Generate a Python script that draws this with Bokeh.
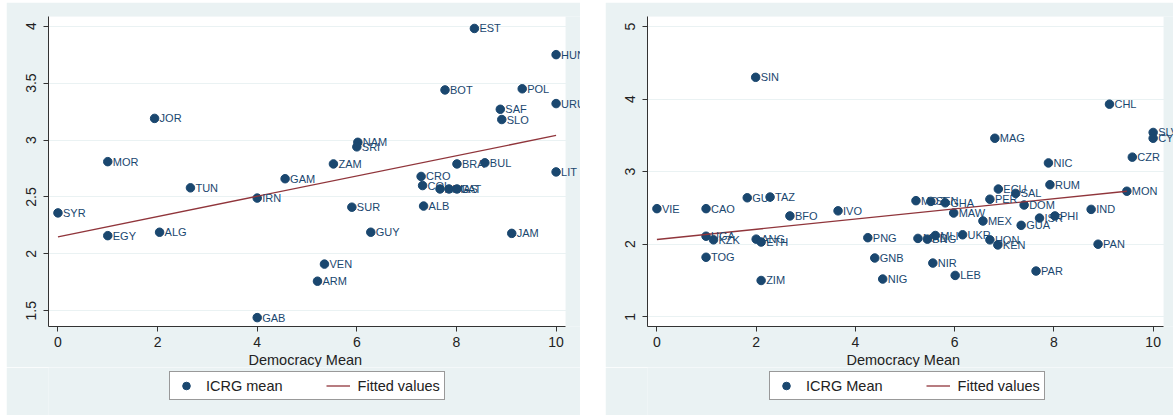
from bokeh.plotting import figure
from bokeh.models import (Range1d, FixedTicker, ColumnDataSource, LabelSet,
                          Legend, LegendItem, BoxAnnotation, Title)
from bokeh.core.properties import value
from bokeh.layouts import row, column
from bokeh.embed import file_html
from bokeh.resources import INLINE

# ---------------- data: left panel (ICRG mean) ----------------
left_names = ["EST", "HUN", "BOT", "POL", "SAF", "SLO", "URU", "JOR", "MOR", "NAM",
              "SRI", "ZAM", "GAM", "TUN", "IRN", "SYR", "EGY", "ALG", "GAB", "BRA",
              "BUL", "LIT", "CRO", "COL", "ARG", "MAS", "LAT", "ALB", "SUR", "GUY",
              "JAM", "VEN", "ARM"]
left_democracy = [8.36, 10.0, 7.77, 9.32, 8.88, 8.91, 10.0, 1.94, 1.0, 6.02,
                  6.0, 5.53, 4.56, 2.66, 4.0, 0.0, 1.0, 2.04, 4.0, 8.01,
                  8.57, 10.0, 7.29, 7.32, 7.67, 7.85, 8.01, 7.34, 5.90, 6.28,
                  9.11, 5.35, 5.21]
left_icrg = [3.98, 3.75, 3.44, 3.45, 3.27, 3.18, 3.32, 3.19, 2.81, 2.98,
             2.94, 2.79, 2.66, 2.58, 2.49, 2.36, 2.16, 2.19, 1.44, 2.79,
             2.80, 2.72, 2.68, 2.60, 2.57, 2.57, 2.57, 2.42, 2.41, 2.19,
             2.18, 1.91, 1.76]
left_fit_x = [0.0, 10.0]
left_fit_y = [2.15, 3.04]
left_yticks = [1.5, 2, 2.5, 3, 3.5, 4]
left_ylabels = ["1.5", "2", "2.5", "3", "3.5", "4"]

# ---------------- data: right panel (ICRG Mean) ----------------
right_names = ["SIN", "CHL", "SLV", "CYP", "MAG", "NIC", "CZR", "ECU", "RUM", "MON",
               "PER", "SAL", "DOM", "MOZ", "SEN", "GHA", "MAW", "MEX", "GUA", "ISR",
               "PHI", "IND", "PAN", "PNG", "GNB", "NIG", "NIR", "LEB", "PAR", "UKR",
               "HON", "KEN", "MAD", "BNG", "MLI", "IVO", "BFO", "TAZ", "GUI", "VIE",
               "CAO", "TOG", "ZIM", "UGA", "KZK", "ANG", "ETH"]
right_democracy = [1.99, 9.12, 10.0, 10.0, 6.81, 7.89, 9.58, 6.88, 7.92, 9.47,
                   6.71, 7.23, 7.40, 5.22, 5.52, 5.81, 5.98, 6.57, 7.34, 7.71,
                   8.02, 8.75, 8.89, 4.25, 4.39, 4.55, 5.56, 6.01, 7.64, 6.16,
                   6.71, 6.87, 5.26, 5.45, 5.61, 3.65, 2.68, 2.28, 1.82, 0.0,
                   0.99, 0.99, 2.10, 0.99, 1.14, 2.0, 2.10]
right_icrg = [4.30, 3.93, 3.54, 3.46, 3.46, 3.12, 3.20, 2.76, 2.82, 2.73,
              2.62, 2.70, 2.54, 2.60, 2.59, 2.57, 2.43, 2.32, 2.26, 2.36,
              2.39, 2.48, 2.00, 2.09, 1.81, 1.52, 1.74, 1.57, 1.63, 2.13,
              2.06, 1.99, 2.08, 2.07, 2.12, 2.46, 2.39, 2.65, 2.64, 2.49,
              2.49, 1.82, 1.50, 2.11, 2.06, 2.07, 2.03]
right_fit_x = [0.0, 9.47]
right_fit_y = [2.065, 2.73]
right_yticks = [1, 2, 3, 4, 5]
right_ylabels = ["1", "2", "3", "4", "5"]

x_ticks = [0, 2, 4, 6, 8, 10]
x_labels = ["0", "2", "4", "6", "8", "10"]
x_title = "Democracy Mean"

BG = "#eaf2f3"
NAVY = "#1a476f"
MAROON = "#90353b"
AX = "#333333"
FONT = "Liberation Sans"
MARKER_SIZE = 8.5
FIT_WIDTH = 1.3


def make_panel(src, fit_src, yticks, ylabels, plot_xr, view_xmax, yr,
               width, margin_left, title_offset):
    # frame reaches the panel's right edge so that point labels may run into the
    # grey margin (as in the reference); the white plot region is drawn as a box.
    p = figure(width=width, height=365,
               x_range=Range1d(plot_xr[0], view_xmax), y_range=Range1d(*yr),
               output_backend="svg", toolbar_location=None,
               min_border_left=42, min_border_right=0,
               min_border_top=14, min_border_bottom=41)
    p.margin = (2, 0, 0, margin_left)
    p.background_fill_color = BG
    p.border_fill_color = BG
    p.outline_line_color = None

    p.add_layout(BoxAnnotation(left=plot_xr[0], right=plot_xr[1],
                               fill_color="white", fill_alpha=1,
                               line_color=None, level="image"))

    p.scatter("x", "y", source=src, size=MARKER_SIZE, fill_color=NAVY, line_color=NAVY)
    p.line("x", "y", source=fit_src, line_color=MAROON, line_width=FIT_WIDTH)

    labels = LabelSet(x="x", y="y", text="name", source=src, x_offset=5,
                      text_baseline="middle", text_align="left",
                      text_font=value(FONT), text_font_size=value("11px"),
                      text_color=NAVY)
    p.add_layout(labels)

    # axes
    p.xaxis.ticker = FixedTicker(ticks=x_ticks)
    p.xaxis.major_label_overrides = dict(zip(x_ticks, x_labels))
    p.xaxis.bounds = plot_xr
    p.yaxis.ticker = FixedTicker(ticks=yticks)
    p.yaxis.major_label_overrides = dict(zip(yticks, ylabels))
    for ax in (p.xaxis, p.yaxis):
        ax.axis_line_color = AX
        ax.major_tick_line_color = AX
        ax.minor_tick_line_color = None
        ax.major_tick_out = 5
        ax.major_tick_in = 0
        ax.major_label_text_font = FONT
        ax.major_label_text_font_size = "14px"
        ax.major_label_text_color = "#222222"
    p.yaxis.major_label_orientation = "vertical"
    p.yaxis.major_label_standoff = 7
    p.xaxis.major_label_standoff = 5

    # x-axis title, centred under the white plot region (not the wider frame)
    p.add_layout(Title(text=x_title, align="left", offset=title_offset,
                       text_font=FONT, text_font_size="14.5px",
                       text_font_style="normal", text_color="#222222",
                       standoff=0), "below")

    p.xgrid.grid_line_color = None
    p.ygrid.grid_line_color = BG
    p.ygrid.grid_line_width = 1
    p.ygrid.bounds = plot_xr
    return p


def make_legend(src, fit_src, legend_label, width, margin_left, box_left):
    # a strip under the panel that only holds the legend; its renderers reuse the
    # panel's sources but fall outside this strip's ranges, so only the key shows
    lf = figure(width=width, height=48, x_range=Range1d(0, 1), y_range=Range1d(0, 1),
                output_backend="svg", toolbar_location=None,
                x_axis_location=None, y_axis_location=None,
                min_border=0, min_border_left=0, min_border_right=0,
                min_border_top=0, min_border_bottom=0)
    lf.margin = (0, 0, 0, margin_left)
    lf.background_fill_color = BG
    lf.border_fill_color = BG
    lf.outline_line_color = None
    lf.grid.visible = False
    sc = lf.scatter("x", "y", source=src, size=MARKER_SIZE, fill_color=NAVY,
                    line_color=NAVY)
    ln = lf.line("x", "y", source=fit_src, line_color=MAROON, line_width=FIT_WIDTH)
    legend = Legend(items=[LegendItem(label=legend_label, renderers=[sc]),
                           LegendItem(label="Fitted values", renderers=[ln])],
                    orientation="horizontal", location=(box_left, 15))
    legend.border_line_color = AX
    legend.border_line_width = 1
    legend.background_fill_color = "white"
    legend.background_fill_alpha = 1
    legend.label_text_font = FONT
    legend.label_text_font_size = "14.5px"
    legend.label_text_color = "#222222"
    legend.glyph_width = 24
    legend.glyph_height = 19
    legend.label_height = 19
    legend.padding = 4
    legend.spacing = 43
    legend.label_standoff = 8
    legend.margin = 0
    lf.add_layout(legend, "center")
    return lf


src_l = ColumnDataSource(dict(x=left_democracy, y=left_icrg, name=left_names))
fit_l = ColumnDataSource(dict(x=left_fit_x, y=left_fit_y))
src_r = ColumnDataSource(dict(x=right_democracy, y=right_icrg, name=right_names))
fit_r = ColumnDataSource(dict(x=right_fit_x, y=right_fit_y))

p1 = make_panel(src_l, fit_l, left_yticks, left_ylabels,
                (-0.19, 10.19), 10.49, (1.362, 4.085), 574, 6, 200)
l1 = make_legend(src_l, fit_l, "ICRG mean", 574, 6, 121)
p2 = make_panel(src_r, fit_r, right_yticks, right_ylabels,
                (-0.19, 10.21), 10.41, (0.866, 5.138), 568, 25, 199)
l2 = make_legend(src_r, fit_r, "ICRG Mean", 568, 25, 122)

layout = row(column(p1, l1), column(p2, l2))
open("out.html", "w").write(file_html(layout, INLINE))
